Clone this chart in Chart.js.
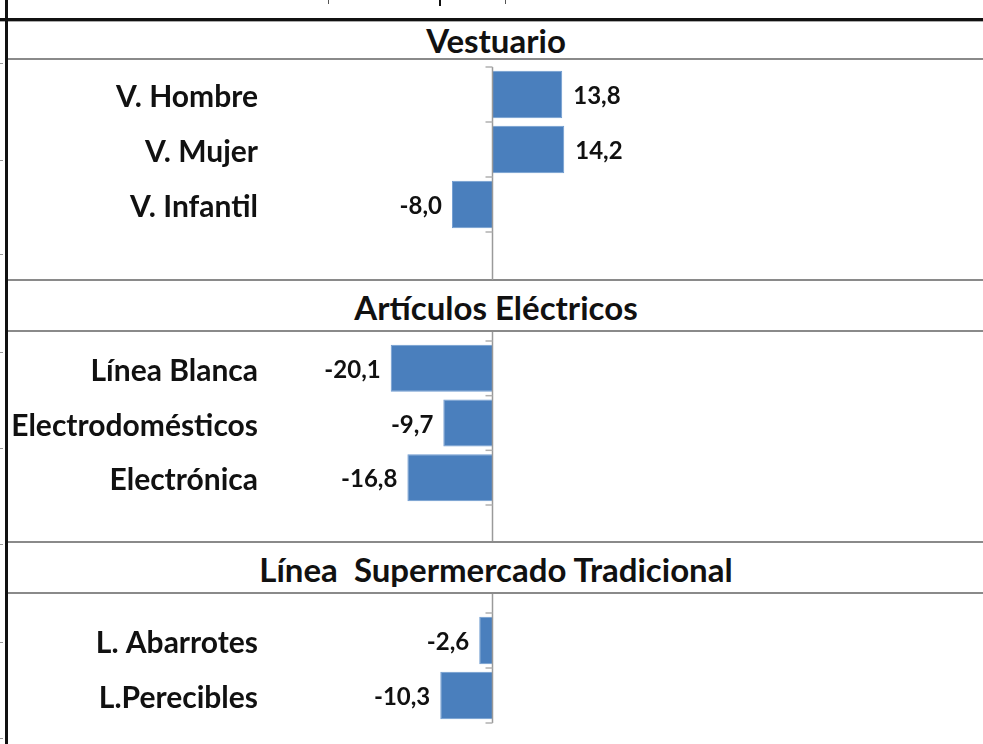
<!DOCTYPE html>
<html>
<head>
<meta charset="utf-8">
<script src="https://cdn.jsdelivr.net/npm/chart.js@4.4.1/dist/chart.umd.min.js"></script>
<style>
  html, body { margin: 0; padding: 0; background: #fff; }
  body { width: 983px; height: 744px; position: relative; overflow: hidden; font-family: Lato, "Open Sans", sans-serif; }
  .panel { position: absolute; left: 0; width: 983px; }
  .rule { position: absolute; left: 8px; right: 0; height: 2px; background: #8a8a8a; }
  .head { position: absolute; left: 146px; width: 700px; text-align: center; font-weight: bold; font-size: 33px; color: #111; line-height: 36px; white-space: pre; }
  .mark { position: absolute; background: #999; }
</style>
</head>
<body>

<!-- frame -->
<div style="position:absolute;left:0;right:0;top:18px;height:3px;background:#111;"></div>
<div style="position:absolute;left:0;right:0;top:21px;height:1px;background:#aaa;"></div>
<div style="position:absolute;left:5px;top:0;bottom:0;width:3px;background:#111;"></div>
<div style="position:absolute;left:328px;top:0;width:1px;height:4px;background:#555;"></div>
<div style="position:absolute;left:439px;top:0;width:2px;height:6px;background:#111;"></div>
<div style="position:absolute;left:505px;top:0;width:1px;height:4px;background:#555;"></div>

<div class="mark" style="left:0;top:63px;width:3px;height:1px"></div>
<div class="mark" style="left:0;top:160px;width:3px;height:1px"></div>
<div class="mark" style="left:0;top:254px;width:3px;height:1px"></div>
<div class="mark" style="left:0;top:352px;width:3px;height:1px"></div>
<div class="mark" style="left:0;top:448px;width:3px;height:1px"></div>
<div class="mark" style="left:0;top:544px;width:3px;height:1px"></div>
<div class="mark" style="left:0;top:642px;width:3px;height:1px"></div>
<div class="mark" style="left:0;top:738px;width:3px;height:1px"></div>

<div class="rule" style="top:58px"></div>
<div class="rule" style="top:279px"></div>
<div class="rule" style="top:330px"></div>
<div class="rule" style="top:541px"></div>
<div class="rule" style="top:592px"></div>

<div class="head" id="h0" style="top:22px"></div>
<div class="head" id="h1" style="top:289px"></div>
<div class="head" id="h2" style="top:551px"></div>

<div class="panel" style="top:60px"><canvas id="c0" width="983" height="220"></canvas></div>
<div class="panel" style="top:332px"><canvas id="c1" width="983" height="209"></canvas></div>
<div class="panel" style="top:594px"><canvas id="c2" width="983" height="150"></canvas></div>

<script>
// section titles
const sectionTitles = ['Vestuario', 'Artículos Eléctricos', 'Línea  Supermercado Tradicional'];

// Vestuario
const vestLabels = ['V. Hombre', 'V. Mujer', 'V. Infantil'];
const vestValues = [13.8, 14.2, -8.0];

// Artículos Eléctricos
const elecLabels = ['Línea Blanca', 'Electrodomésticos', 'Electrónica'];
const elecValues = [-20.1, -9.7, -16.8];

// Línea Supermercado Tradicional
const superLabels = ['L. Abarrotes', 'L.Perecibles'];
const superValues = [-2.6, -10.3];

sectionTitles.forEach((t, i) => { document.getElementById('h' + i).textContent = t; });

const BAR_COLOR = '#4a7fbd';

// zero axis line, category tick marks and value labels
const panelDeco = {
    id: 'panelDeco',
    afterDatasetsDraw(chart, args, opts) {
        const ctx = chart.ctx;
        const xs = chart.scales.x, ys = chart.scales.y;
        const area = chart.chartArea;
        const x0 = Math.round(xs.getPixelForValue(0)) + 0.5;
        const n = chart.data.labels.length;

        ctx.save();
        ctx.strokeStyle = '#9a9a9a';
        ctx.lineWidth = 1.5;
        ctx.beginPath();
        ctx.moveTo(x0, opts.fromTop ? 0 : area.top);
        ctx.lineTo(x0, opts.toBottom ? chart.height : area.bottom);
        ctx.stroke();

        ctx.strokeStyle = '#b0b0b0';
        for (let i = 0; i <= n; i++) {
            const y = ys.getPixelForValue(i - 0.5);
            ctx.beginPath();
            ctx.moveTo(x0 - 7, y);
            ctx.lineTo(x0, y);
            ctx.stroke();
        }

        ctx.fillStyle = '#111';
        ctx.font = 'bold 24px Lato, "Open Sans", sans-serif';
        ctx.textBaseline = 'middle';
        const meta = chart.getDatasetMeta(0);
        meta.data.forEach((bar, i) => {
            const v = chart.data.datasets[0].data[i];
            const txt = v.toFixed(1).replace('.', ',');
            if (v >= 0) {
                ctx.textAlign = 'left';
                ctx.fillText(txt, bar.x + 11, bar.y + 2);
            } else {
                ctx.textAlign = 'right';
                ctx.fillText(txt, bar.x - 10, bar.y + 2);
            }
        });
        ctx.restore();
    }
};

function makePanel(id, labels, values, padTop, padBottom, fromTop, toBottom) {
    return new Chart(document.getElementById(id), {
        type: 'bar',
        data: {
            labels: labels,
            datasets: [{
                data: values,
                backgroundColor: BAR_COLOR,
                borderColor: '#6f9bd0',
                borderWidth: 1,
                categoryPercentage: 1,
                barPercentage: 0.86
            }]
        },
        options: {
            indexAxis: 'y',
            responsive: false,
            animation: false,
            devicePixelRatio: 1,
            layout: { padding: { left: 0, right: 288.2, top: padTop, bottom: padBottom } },
            plugins: {
                legend: { display: false },
                tooltip: { enabled: false },
                panelDeco: { fromTop: fromTop, toBottom: toBottom }
            },
            scales: {
                x: { display: false, min: -40, max: 40 },
                y: {
                    grid: { display: false, drawTicks: false },
                    border: { display: false },
                    afterFit(scale) {
                        scale.width = 290;
                        scale.paddingTop = 0;
                        scale.paddingBottom = 0;
                    },
                    ticks: {
                        padding: 32,
                        labelOffset: 3,
                        color: '#111',
                        font: { family: 'Lato, "Open Sans", sans-serif', size: 30, weight: 'bold' }
                    }
                }
            }
        },
        plugins: [panelDeco]
    });
}

makePanel('c0', vestLabels, vestValues, 7, 48, false, true);
makePanel('c1', elecLabels, elecValues, 9, 36, true, true);
makePanel('c2', superLabels, superValues, 19, 21, true, false);
</script>
</body>
</html>
